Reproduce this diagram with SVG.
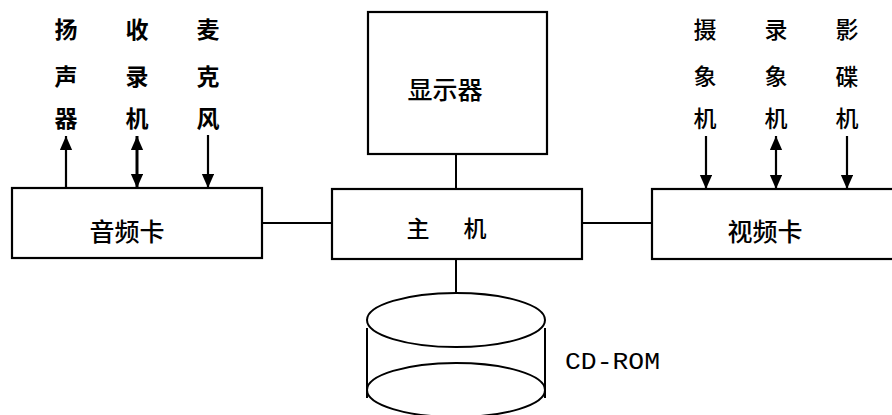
<svg xmlns="http://www.w3.org/2000/svg" width="892" height="415" viewBox="0 0 892 415">
<style>
.box{fill:#fff;stroke:#000;stroke-width:2.2}
.ln{fill:none;stroke:#000;stroke-width:2}
.ar{fill:none;stroke:#000;stroke-width:2.2}
.ar2{fill:none;stroke:#000;stroke-width:3}
.cjk{font-family:"Noto Sans CJK SC","Noto Sans CJK JP",sans-serif;fill:#000;text-anchor:middle;dominant-baseline:central}
.lbl{font-size:23px;font-weight:700}
.vlbl{font-size:23px;font-weight:500}
.bx{font-size:25px;font-weight:500}
.hx{font-size:23px;font-weight:500}
.mono{font-family:"Liberation Mono",monospace;font-size:23px;fill:#000}
</style>
<defs>
<marker id="ah" viewBox="0 0 14 16" refX="16" refY="7" markerWidth="16" markerHeight="14" markerUnits="userSpaceOnUse" orient="auto-start-reverse">
<path d="M0,0 L16,7 L0,14 Z" fill="#000"/>
</marker>
</defs>
<g id="connectors">
<line class="ln" x1="262" y1="223" x2="332" y2="223"/>
<line class="ln" x1="582" y1="223" x2="652" y2="223"/>
<line class="ln" x1="456" y1="154" x2="456" y2="189"/>
<line class="ln" x1="456" y1="259" x2="456" y2="293"/>
<line class="ar" x1="66" y1="188" x2="66" y2="136" marker-end="url(#ah)"/>
<line class="ar2" x1="137" y1="136" x2="137" y2="188" marker-start="url(#ah)" marker-end="url(#ah)"/>
<line class="ar" x1="208" y1="135" x2="208" y2="188" marker-end="url(#ah)"/>
<line class="ar" x1="706" y1="136" x2="706" y2="189" marker-end="url(#ah)"/>
<line class="ar" x1="776" y1="136" x2="776" y2="189" marker-start="url(#ah)" marker-end="url(#ah)"/>
<line class="ar" x1="847" y1="136" x2="847" y2="189" marker-end="url(#ah)"/>
</g>
<g id="speaker">
<text class="cjk lbl" x="66" y="28">扬</text>
<text class="cjk lbl" x="66" y="75">声</text>
<text class="cjk lbl" x="66" y="117">器</text>
</g>
<g id="recorder">
<text class="cjk lbl" x="137" y="28">收</text>
<text class="cjk lbl" x="137" y="75">录</text>
<text class="cjk lbl" x="137" y="117">机</text>
</g>
<g id="microphone">
<text class="cjk lbl" x="208" y="28">麦</text>
<text class="cjk lbl" x="208" y="75">克</text>
<text class="cjk lbl" x="208" y="117">风</text>
</g>
<g id="camera">
<text class="cjk vlbl" x="705" y="28">摄</text>
<text class="cjk vlbl" x="705" y="75">象</text>
<text class="cjk vlbl" x="705" y="117">机</text>
</g>
<g id="vcr">
<text class="cjk vlbl" x="776" y="28">录</text>
<text class="cjk vlbl" x="776" y="75">象</text>
<text class="cjk vlbl" x="776" y="117">机</text>
</g>
<g id="vcd">
<text class="cjk vlbl" x="847" y="28">影</text>
<text class="cjk vlbl" x="847" y="75">碟</text>
<text class="cjk vlbl" x="847" y="117">机</text>
</g>
<g id="display">
<rect class="box" x="368" y="12" width="179" height="142"/>
<text class="cjk bx" x="445" y="88">显示器</text>
</g>
<g id="audio-card">
<rect class="box" x="12" y="188" width="250" height="70"/>
<text class="cjk bx" x="127" y="230">音频卡</text>
</g>
<g id="host">
<rect class="box" x="332" y="189" width="250" height="70"/>
<text class="cjk hx" x="418" y="227">主</text>
<text class="cjk hx" x="475" y="227">机</text>
</g>
<g id="video-card">
<rect class="box" x="652" y="189" width="260" height="70"/>
<text class="cjk bx" x="765" y="230">视频卡</text>
</g>
<g id="cdrom">
<line class="ln" x1="367" y1="328" x2="367" y2="398"/>
<line class="ln" x1="545" y1="328" x2="545" y2="398"/>
<ellipse class="ln" cx="456" cy="320" rx="89" ry="27"/>
<ellipse class="ln" cx="456" cy="390" rx="89" ry="27"/>
<text class="mono" x="565" y="369" textLength="95" lengthAdjust="spacingAndGlyphs">CD-ROM</text>
</g>
</svg>
